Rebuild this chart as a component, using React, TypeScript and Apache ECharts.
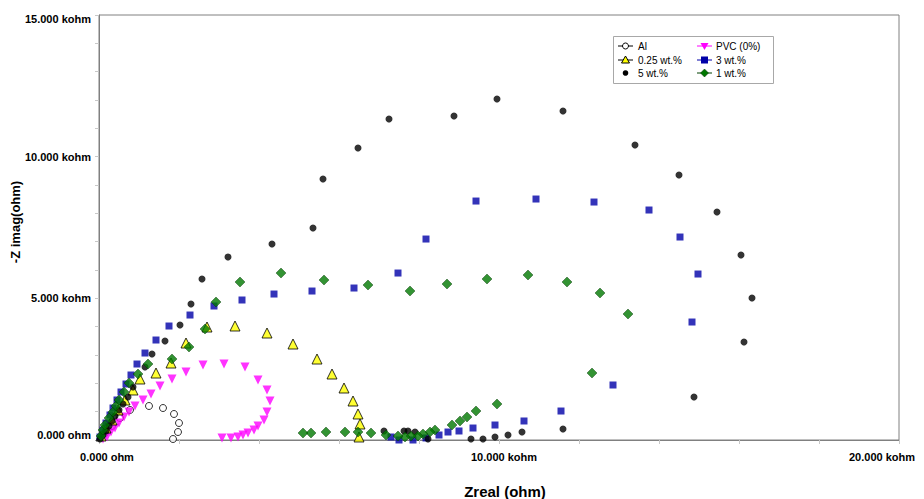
import React, { useEffect, useRef } from 'react';
import * as echarts from 'echarts';

// Nyquist data: [Zreal (ohm), -Zimag (ohm)]
const alData: number[][] = [
  [150, 247], [325, 494], [525, 776], [775, 1059], [1250, 1200], [1600, 1129],
  [1875, 918], [2000, 600], [1975, 282], [1850, 35],
];

const pvcData: number[][] = [
  [100, 35], [200, 106], [300, 282], [400, 423], [500, 600], [625, 812], [750, 988],
  [900, 1200], [1100, 1412], [1300, 1623], [1525, 1906], [1825, 2153], [2175, 2400],
  [2600, 2647], [3125, 2682], [3650, 2576], [3975, 2117], [4200, 1765], [4275, 1376],
  [4200, 988], [4125, 706], [3975, 494], [3875, 353], [3725, 247], [3600, 176],
  [3475, 106], [3300, 71], [3075, 71],
];

const wt025Data: number[][] = [
  [50, 141], [175, 423], [325, 706], [475, 1059], [650, 1412], [850, 1765],
  [1025, 2153], [1425, 2364], [1800, 2717], [2175, 3423], [2700, 3988], [3400, 4023],
  [4200, 3776], [4850, 3388], [5450, 2858], [5825, 2329], [6125, 1835], [6350, 1376],
  [6475, 918], [6525, 565], [6500, 106],
];

const wt3Data: number[][] = [
  [25, 106], [100, 353], [175, 600], [275, 882], [350, 1129], [450, 1412], [550, 1694],
  [675, 1976], [800, 2294], [950, 2682], [1150, 3070], [1425, 3529], [1750, 4023],
  [2275, 4411], [2875, 4729], [3575, 4941], [4375, 5152], [5325, 5258], [6375, 5364],
  [7475, 5893], [8175, 7093], [9425, 8434], [10925, 8505], [12375, 8399], [13750, 8117],
  [14525, 7164], [14975, 5858], [14825, 4164], [12850, 1941], [11550, 1023], [10625, 671],
  [9900, 529], [9350, 423], [9000, 318], [8725, 282], [8500, 176], [8175, 71],
  [7850, 0], [7500, 0], [7300, 106],
];

const wt5Data: number[][] = [
  [25, 35], [100, 176], [175, 318], [250, 494], [325, 670], [400, 847], [500, 1059],
  [600, 1270], [725, 1517], [850, 1870], [1150, 2576], [1325, 3035], [1650, 3494],
  [2025, 4058], [2300, 4800], [2575, 5682], [3225, 6458], [4325, 6917], [5350, 7482],
  [5600, 9211], [6475, 10305], [7250, 11328], [8875, 11434], [9950, 12034], [11600, 11610],
  [13400, 10410], [14500, 9352], [15450, 8046], [16050, 6529], [16325, 5011], [16125, 3458],
  [14875, 1517], [11600, 388], [10575, 282], [10225, 176], [9900, 106], [9600, 35],
  [9300, 35], [8225, 35], [7900, 282], [7725, 318], [7625, 318], [7125, 318],
];

const wt1Data: number[][] = [
  [50, 141], [100, 353], [150, 529], [250, 776], [350, 988], [425, 1200], [500, 1412],
  [625, 1694], [750, 2011], [975, 2329], [1225, 2682], [1825, 2858], [2250, 3282],
  [2650, 3917], [2925, 4870], [3525, 5576], [4550, 5893], [5625, 5646], [6725, 5470],
  [7775, 5258], [8700, 5505], [9700, 5682], [10725, 5823], [11700, 5576], [12525, 5188],
  [13225, 4447], [12325, 2364], [9950, 1270], [9425, 1023], [9200, 812], [9025, 671],
  [8825, 529], [8400, 353], [8275, 282], [8100, 212], [7975, 141], [7800, 141],
  [7650, 106], [7475, 141], [7175, 176], [6800, 247], [6475, 282], [6150, 282],
  [5675, 282], [5300, 247], [5100, 247],
];

const seriesNames = ['Al', 'PVC (0%)', '0.25 wt.%', '3 wt.%', '5 wt.%', '1 wt.%'];

const yTickValues = [0, 5000, 10000, 15000];
const yTickLabels = ['0.000 ohm', '5.000 kohm', '10.000 kohm', '15.000 kohm'];
const xTickValues = [0, 10000, 20000];
const xTickLabels = ['0.000 ohm', '10.000 kohm', '20.000 kohm'];

const FONT = '"Liberation Sans", Arial, sans-serif';

export default function App() {
  const ref = useRef<HTMLDivElement>(null);

  useEffect(() => {
    const chart = echarts.init(ref.current!, null, { renderer: 'svg' });

    const legendX1 = 618;
    const legendX2 = 697;
    const rows = [46, 60, 73];
    const leg: any[] = [];
    leg.push({
      type: 'rect',
      shape: { x: 613.5, y: 36.5, width: 160, height: 47 },
      style: { fill: '#ffffff', stroke: '#a8a8a8', lineWidth: 1 },
      z: 10,
    });
    const addText = (x: number, y: number, t: string) =>
      leg.push({
        type: 'text',
        x,
        y,
        style: { text: t, fill: '#000', font: `10px ${FONT}`, textVerticalAlign: 'middle' },
        z: 11,
      });
    const addLine = (x: number, y: number, color: string) =>
      leg.push({
        type: 'line',
        shape: { x1: x, y1: y, x2: x + 15, y2: y },
        style: { stroke: color, lineWidth: 1 },
        z: 11,
      });
    // Al
    addLine(legendX1, rows[0], '#000');
    leg.push({ type: 'circle', shape: { cx: legendX1 + 7.5, cy: rows[0], r: 3 }, style: { fill: '#fff', stroke: '#000', lineWidth: 1 }, z: 12 });
    addText(legendX1 + 20, rows[0], seriesNames[0]);
    // 0.25
    addLine(legendX1, rows[1], '#000');
    leg.push({ type: 'polygon', shape: { points: [[legendX1 + 7.5, rows[1] - 4], [legendX1 + 11.5, rows[1] + 3], [legendX1 + 3.5, rows[1] + 3]] }, style: { fill: '#ffff00', stroke: '#000', lineWidth: 1 }, z: 12 });
    addText(legendX1 + 20, rows[1], seriesNames[2]);
    // 5 wt
    leg.push({ type: 'circle', shape: { cx: legendX1 + 7.5, cy: rows[2], r: 2.8 }, style: { fill: '#000' }, z: 12 });
    addText(legendX1 + 20, rows[2], seriesNames[4]);
    // PVC
    addLine(legendX2, rows[0], '#ff00ff');
    leg.push({ type: 'polygon', shape: { points: [[legendX2 + 3.5, rows[0] - 3], [legendX2 + 11.5, rows[0] - 3], [legendX2 + 7.5, rows[0] + 4]] }, style: { fill: '#ff00ff' }, z: 12 });
    addText(legendX2 + 19, rows[0], seriesNames[1]);
    // 3 wt
    addLine(legendX2, rows[1], '#0000a8');
    leg.push({ type: 'rect', shape: { x: legendX2 + 4, y: rows[1] - 3.5, width: 7, height: 7 }, style: { fill: '#0000a8' }, z: 12 });
    addText(legendX2 + 19, rows[1], seriesNames[3]);
    // 1 wt
    addLine(legendX2, rows[2], '#004000');
    leg.push({ type: 'polygon', shape: { points: [[legendX2 + 7.5, rows[2] - 4], [legendX2 + 11.5, rows[2]], [legendX2 + 7.5, rows[2] + 4], [legendX2 + 3.5, rows[2]]] }, style: { fill: '#007800', stroke: '#003000', lineWidth: 0.5 }, z: 12 });
    addText(legendX2 + 19, rows[2], seriesNames[5]);

    // per-label nudges (rich padding) to mirror the reference placement
    const yRich = ['y0', 'y5', 'y10', 'y15'];
    const xRich = ['x0', 'x10', 'x20'];
    const yFmt = (v: number) => {
      const i = yTickValues.indexOf(v);
      return i >= 0 ? `{${yRich[i]}|${yTickLabels[i]}}` : '';
    };
    const xFmt = (v: number) => {
      const i = xTickValues.indexOf(v);
      return i >= 0 ? `{${xRich[i]}|${xTickLabels[i]}}` : '';
    };
    const base = { color: '#000', fontWeight: 'bold', fontSize: 11, fontFamily: FONT };

    chart.setOption({
      animation: false,
      backgroundColor: '#ffffff',
      grid: {
        left: 99,
        top: 15,
        right: 25,
        bottom: 59,
        containLabel: false,
        outerBoundsMode: 'none',
        show: true,
        borderColor: '#808080',
        borderWidth: 1,
        backgroundColor: 'transparent',
      },
      xAxis: {
        type: 'value',
        min: 0,
        max: 20000,
        interval: 2000,
        axisLine: { show: true, onZero: false, lineStyle: { color: '#808080', width: 1 } },
        axisTick: { show: true, length: 4, lineStyle: { color: '#c8c8c8' } },
        splitLine: { show: false },
        axisLabel: {
          formatter: xFmt,
          margin: 11,
          ...base,
          showMaxLabel: true,
          showMinLabel: true,
          rich: {
            x0: { ...base, padding: [0, 0, 0, 16] },
            x10: { ...base, padding: [0, 0, 0, 10] },
            x20: { ...base, padding: [0, 34, 0, 0] },
          },
        },
      },
      yAxis: {
        type: 'value',
        min: 0,
        max: 15000,
        interval: 1000,
        axisLine: { show: true, onZero: false, lineStyle: { color: '#808080', width: 1 } },
        axisTick: { show: true, length: 4, lineStyle: { color: '#c8c8c8' } },
        splitLine: { show: false },
        axisLabel: {
          formatter: yFmt,
          margin: 8,
          ...base,
          rich: {
            y0: { ...base, padding: [0, 0, 10, 0] },
            y5: { ...base },
            y10: { ...base },
            y15: { ...base, padding: [8, 0, 0, 0] },
          },
        },
      },
      graphic: [
        {
          type: 'text',
          x: 15,
          y: 222,
          rotation: Math.PI / 2,
          style: {
            text: '-Z imag(ohm)',
            fill: '#000',
            font: `bold 13px ${FONT}`,
            textAlign: 'center',
            textVerticalAlign: 'middle',
          },
        },
        {
          type: 'text',
          x: 505,
          y: 491,
          style: {
            text: 'Zreal (ohm)',
            fill: '#000',
            font: `bold 15px ${FONT}`,
            textAlign: 'center',
            textVerticalAlign: 'middle',
          },
        },
        ...leg,
      ],
      series: [
        {
          name: seriesNames[0],
          type: 'scatter',
          data: alData,
          symbol: 'circle',
          symbolSize: 7,
          itemStyle: { color: '#ffffff', borderColor: '#000', borderWidth: 1 },
          z: 2,
        },
        {
          name: seriesNames[1],
          type: 'scatter',
          data: pvcData,
          symbol: 'triangle',
          symbolRotate: 180,
          symbolSize: 9,
          itemStyle: { color: '#ff00ff' },
          z: 3,
        },
        {
          name: seriesNames[2],
          type: 'scatter',
          data: wt025Data,
          symbol: 'triangle',
          symbolSize: 10,
          itemStyle: { color: '#ffff00', borderColor: '#000', borderWidth: 1 },
          z: 4,
        },
        {
          name: seriesNames[3],
          type: 'scatter',
          data: wt3Data,
          symbol: 'rect',
          symbolSize: 7,
          itemStyle: { color: '#0000a8' },
          z: 5,
        },
        {
          name: seriesNames[4],
          type: 'scatter',
          data: wt5Data,
          symbol: 'circle',
          symbolSize: 7,
          itemStyle: { color: '#000000' },
          z: 6,
        },
        {
          name: seriesNames[5],
          type: 'scatter',
          data: wt1Data,
          symbol: 'diamond',
          symbolSize: 10,
          itemStyle: { color: '#007800', borderColor: '#003000', borderWidth: 0.5 },
          z: 7,
        },
      ],
    });

    return () => chart.dispose();
  }, []);

  return (
    <div
      ref={ref}
      style={{ position: 'fixed', left: 0, top: 0, width: 924, height: 499 }}
    />
  );
}
